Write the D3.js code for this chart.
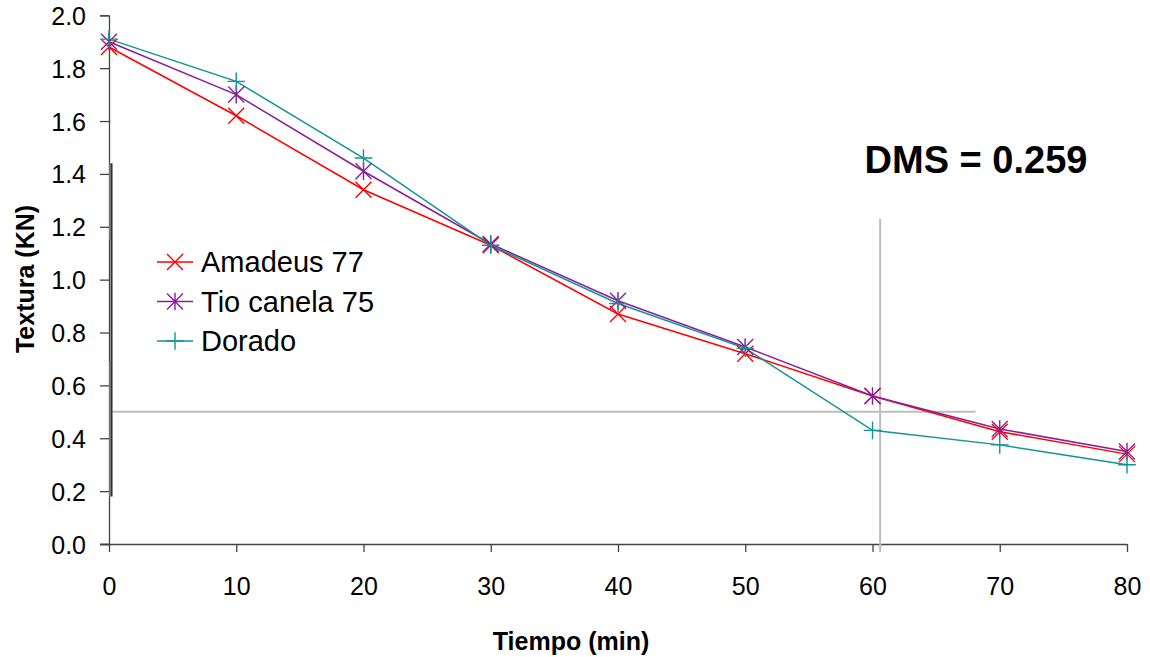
<!DOCTYPE html>
<html><head><meta charset="utf-8">
<script src="https://cdn.jsdelivr.net/npm/d3@7"></script>
<style>body{margin:0;background:#fff}svg{display:block}text{font-family:"Liberation Sans",Arial,sans-serif}</style>
</head><body><svg id="c" width="1150" height="657"></svg>
<script>
const tiempo = [0,10,20,30,40,50,60,70,80];
const amadeus = [1.88,1.62,1.34,1.13,0.87,0.72,0.56,0.425,0.34];
const tioCanela = [1.90,1.70,1.41,1.135,0.92,0.745,0.56,0.435,0.35];
const dorado = [1.91,1.75,1.46,1.13,0.91,0.74,0.43,0.375,0.30];
const seriesNames = ["Amadeus 77","Tio canela 75","Dorado"];
const yTicks = [0,0.2,0.4,0.6,0.8,1.0,1.2,1.4,1.6,1.8,2.0];
const xTicks = [0,10,20,30,40,50,60,70,80];
const dmsLabel = "DMS = 0.259";
// reference lines (data units)
const hLine = {y:0.5, x0:0.2, x1:68.1};
const vLine = {x:60.6, y0:-0.03, y1:1.23};
const errBar = {x:0.2, y0:0.18, y1:1.44};
const errBarGray = [{x:0.1,y0:1.15,y1:1.44},{x:0.1,y0:0.18,y1:0.69}];

const svg = d3.select("#c");
const x = d3.scaleLinear().domain([0,80]).range([109,1127]);
const y = d3.scaleLinear().domain([0,2]).range([544,15.3]);

const colors = ["#ff0000","#8a1e9a","#119494"];
const data = [amadeus,tioCanela,dorado];

// axes
const gx = svg.append("g").attr("transform","translate(0,544)")
  .call(d3.axisBottom(x).tickValues(xTicks).tickSize(8).tickPadding(25).tickFormat(d3.format("d")));
const gy = svg.append("g").attr("transform","translate(109,0)")
  .call(d3.axisLeft(y).tickValues(yTicks).tickSize(9).tickPadding(14).tickFormat(d3.format(".1f")));
[gx,gy].forEach(g=>{
  g.select(".domain").attr("stroke","#444").attr("stroke-width",1.3);
  g.selectAll(".tick line").attr("stroke","#444").attr("stroke-width",1.3);
  g.selectAll(".tick text").attr("fill","#000").attr("font-size",25).attr("font-family","Liberation Sans, Arial, sans-serif");
});
gx.select(".domain").attr("d","M100,0.5H1127");
gy.selectAll(".tick text").attr("dy","0.36em");

// reference lines
svg.append("line").attr("x1",x(hLine.x0)).attr("x2",x(hLine.x1)).attr("y1",y(hLine.y)).attr("y2",y(hLine.y))
  .attr("stroke","#bdbdbd").attr("stroke-width",2);
svg.append("line").attr("x1",x(vLine.x)).attr("x2",x(vLine.x)).attr("y1",y(vLine.y0)).attr("y2",y(vLine.y1))
  .attr("stroke","#bdbdbd").attr("stroke-width",2);
errBarGray.forEach(b=>svg.append("line").attr("x1",x(b.x)).attr("x2",x(b.x)).attr("y1",y(b.y0)).attr("y2",y(b.y1))
  .attr("stroke","#aaa").attr("stroke-width",1.5));
svg.append("line").attr("x1",x(errBar.x)).attr("x2",x(errBar.x)).attr("y1",y(errBar.y0)).attr("y2",y(errBar.y1))
  .attr("stroke","#333").attr("stroke-width",2);

// marker paths
const s = 8;
const markers = [
  `M${-s},${-s}L${s},${s}M${-s},${s}L${s},${-s}`,
  `M${-s},${-s}L${s},${s}M${-s},${s}L${s},${-s}M0,${-s*1.1}L0,${s*1.1}`,
  `M${-s*1.1},0L${s*1.1},0M0,${-s*1.1}L0,${s*1.1}`
];

const line = d3.line().x((d,i)=>x(tiempo[i])).y(d=>y(d));
data.forEach((vals,k)=>{
  svg.append("path").attr("d",line(vals)).attr("fill","none").attr("stroke",colors[k]).attr("stroke-width",1.5);
});
data.forEach((vals,k)=>{
  svg.append("g").selectAll("path").data(vals).join("path")
    .attr("transform",(d,i)=>`translate(${x(tiempo[i])},${y(d)})`)
    .attr("d",markers[k]).attr("stroke",colors[k]).attr("stroke-width",1.4).attr("fill","none");
});

// legend
const leg = svg.append("g");
seriesNames.forEach((n,k)=>{
  const yy = 262 + k*39.5;
  leg.append("line").attr("x1",157).attr("x2",193).attr("y1",yy).attr("y2",yy).attr("stroke",colors[k]).attr("stroke-width",1.5);
  leg.append("path").attr("transform",`translate(175,${yy})`).attr("d",markers[k]).attr("stroke",colors[k]).attr("stroke-width",1.4).attr("fill","none");
  leg.append("text").attr("x",201).attr("y",yy).attr("dy","0.36em").attr("font-size",29).attr("fill","#000").text(n);
});

// titles
svg.append("text").attr("x",571).attr("y",650).attr("text-anchor","middle").attr("font-size",25).attr("font-weight","bold").text("Tiempo (min)");
svg.append("text").attr("transform","translate(34,279) rotate(-90)").attr("text-anchor","middle").attr("font-size",25).attr("font-weight","bold").text("Textura (KN)");
svg.append("text").attr("x",976).attr("y",173).attr("text-anchor","middle").attr("font-size",38).attr("font-weight","bold").text(dmsLabel);
</script></body></html>
